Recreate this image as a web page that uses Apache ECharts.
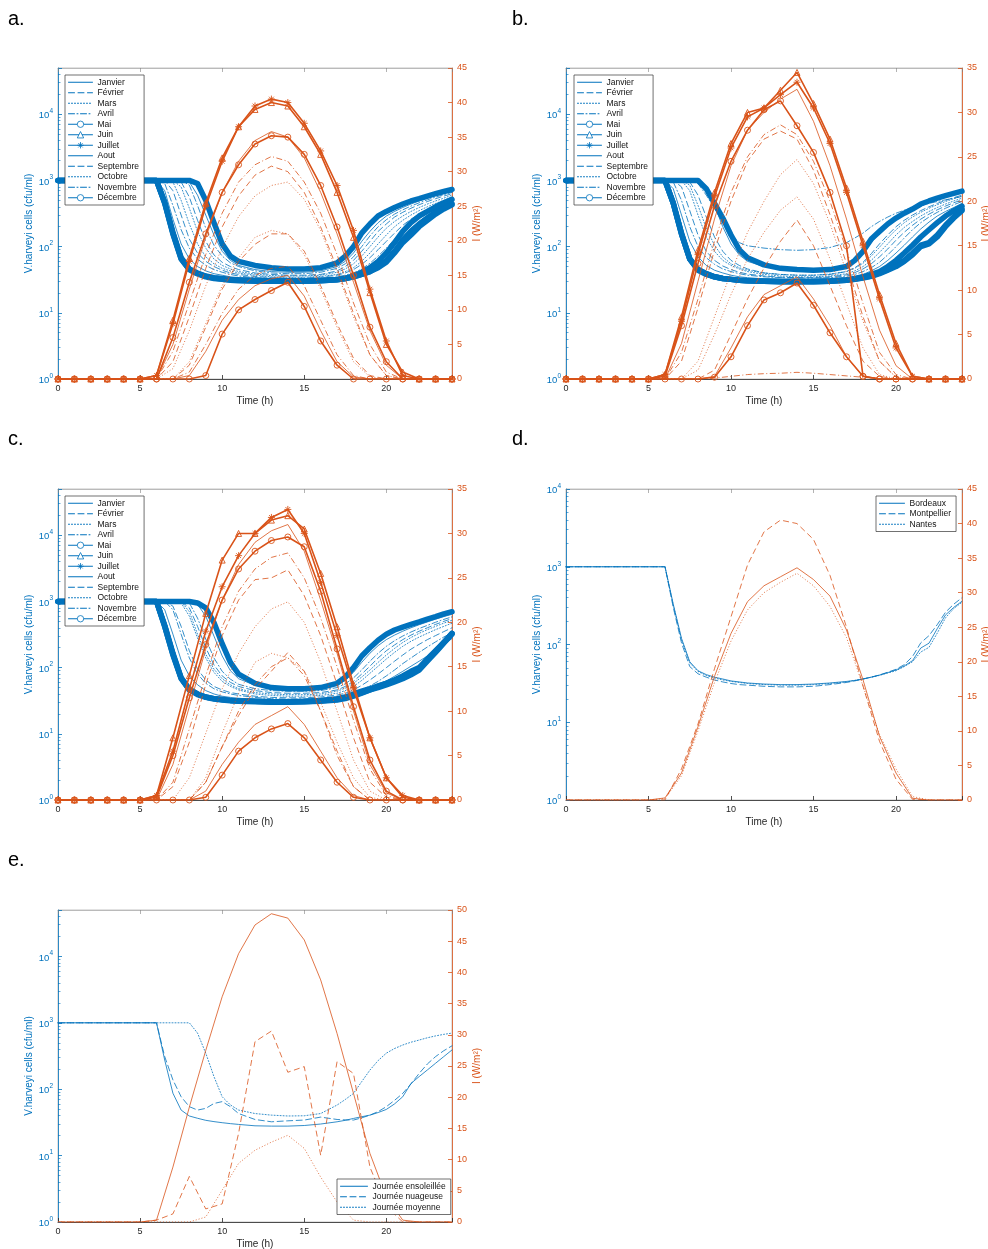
<!DOCTYPE html>
<html><head><meta charset="utf-8">
<script src="https://cdn.jsdelivr.net/npm/echarts@6/dist/echarts.min.js"></script>
<style>html,body{margin:0;padding:0;background:#fff}#c{width:988px;height:1249px}</style>
</head><body><div id="c"></div>
<script>
// ---------- DATA ----------
const HOURS = [0,1,2,3,4,5,6,7,8,9,10,11,12,13,14,15,16,17,18,19,20,21,22,23,24];
const T_B = [0,6,6.5,7,7.5,8,8.5,9,9.5,10,10.5,11,12,13,14,15,16,17,17.5,18,18.5,19,19.5,20,20.5,21,21.5,22,22.5,23,23.5,24];
const MONTHS = ['Janvier','Février','Mars','Avril','Mai','Juin','Juillet','Aout','Septembre','Octobre','Novembre','Décembre'];
const CITIES = ['Bordeaux','Montpellier','Nantes'];
const DAYS = ['Journée ensoleillée','Journée nuageuse','Journée moyenne'];
const PANEL_LETTERS = ['a.','b.','c.','d.','e.'];

// panel a - bacteria (cfu/ml) at T_B
const A_JAN = [1000,1000,1000,1000,1000,950,600,300,150,85,62,52,45,42,41,41,43,50,60,80,120,170,230,290,340,390,440,490,540,590,640,690];
const A_FEV = [1000,1000,1000,1000,950,560,250,120,75,58,50,45,40,38,37,37,38,43,50,62,85,120,170,220,280,330,380,430,480,530,580,630];
const A_MAR = [1000,1000,1000,950,500,220,110,70,55,47,43,40,37,35,34.5,34.5,35.5,38,42,48,60,80,110,150,200,250,300,350,400,450,500,560];
const A_AVR = [1000,1000,900,420,180,95,65,52,45,41,38,36,34,33,32.5,32.5,33,35,37,40,46,56,72,95,130,175,225,280,330,390,440,500];
const A_MAI = [1000,1000,470,165,68,46,40,36,34,33,32,31.5,31,30.5,30.5,30.5,31,32,33,36,41,48,60,80,115,170,230,290,340,400,460,520];
const A_JUN = [1000,1000,460,160,66,45,39,35.5,33.5,32.5,31.5,31,30.5,30,30,30,30.5,31.5,33,35,38,42,50,62,85,125,170,220,270,330,390,450];
const A_JUL = [1000,1000,450,155,65,45,39,35,33,32,31,30.5,30,30,30,30,30.5,31.5,33,35,38,42,48,58,80,115,150,200,250,310,370,430];
const A_AOU = [1000,1000,700,260,110,65,50,43,39,37,35,34,32.5,32,31.5,31.5,32,33.5,35,38,43,50,62,80,105,145,190,240,300,360,420,480];
const A_SEP = [1000,1000,1000,700,300,130,80,60,50,44,40,38,35.5,34,33.5,33.5,34.5,37,40,45,54,68,90,120,160,210,260,310,360,420,470,530];
const A_OCT = [1000,1000,1000,1000,800,380,170,95,65,52,46,42,38.5,36.5,36,36,37,41,46,55,72,100,140,190,240,290,340,390,440,490,540,600];
const A_NOV = [1000,1000,1000,1000,1000,850,420,190,105,72,57,50,43,40,39,39,41,47,55,70,100,145,200,255,310,360,410,460,510,560,610,660];
const A_DEC = [1000,1000,1000,1000,1000,1000,900,500,230,110,72,60,52,48,46,46,48,57,72,100,160,220,290,340,390,440,490,530,580,630,680,730];
// panel a - light (W/m2) at HOURS
const LA_JAN = [0,0,0,0,0,0,0,0,0.5,4,8.5,11.5,13.5,14.5,15,12,7,2.5,0.3,0,0,0,0,0,0];
const LA_FEV = [0,0,0,0,0,0,0,0,2,7.5,13,17,19.5,21,21,18.5,13.5,8,3,0.5,0,0,0,0,0];
const LA_MAR = [0,0,0,0,0,0,0,1.5,7,13.5,19,23.5,26.5,28,28.5,26,21.5,15.5,9,3.5,0.5,0,0,0,0];
const LA_AVR = [0,0,0,0,0,0,0,4,11,18,24,28.5,31,32.2,31.5,28.5,24,18,11,5,1,0,0,0,0];
const LA_MAI = [0,0,0,0,0,0,0,6,14,21,27,31,34,35.2,35,32.5,28,22,15,7.5,2.5,0,0,0,0];
const LA_JUN = [0,0,0,0,0,0,0.5,8.5,17.5,25.5,32,36.5,39,40,39.5,36.5,32.5,27,20.5,12.5,5,1,0,0,0];
const LA_JUL = [0,0,0,0,0,0,0.5,8,17,25,31.5,36.5,39.5,40.5,40,37,33,28,21.5,13,5.5,0.5,0,0,0];
const LA_AOU = [0,0,0,0,0,0,0,5,13,20.5,27,31.5,34.5,35.8,35,32,27,21,14,7,2,0,0,0,0];
const LA_SEP = [0,0,0,0,0,0,0,2.5,9,16,22,26.5,29.5,30.8,30,27,22,16,9.5,3.5,0.5,0,0,0,0];
const LA_OCT = [0,0,0,0,0,0,0,0,2.5,8,13.5,17.5,20.5,21.5,21,18,13,7.5,2.5,0.3,0,0,0,0,0];
const LA_NOV = [0,0,0,0,0,0,0,0,1,5,9.5,13,15,16,16.3,13.5,8.5,3.5,0.5,0,0,0,0,0,0];
const LA_DEC = [0,0,0,0,0,0,0,0,0,0.5,6.5,10,11.5,12.8,14,10.5,5.5,2,0,0,0,0,0,0,0];

// panel b - bacteria
const B_JAN = [1000,1000,1000,1000,1000,1000,800,420,200,110,75,60,50,46,44,44,46,53,62,80,115,160,210,260,310,360,410,460,510,560,610,660];
const B_FEV = [1000,1000,1000,1000,950,600,280,140,85,62,52,46,40,38,37,37,38,42,48,58,78,110,150,200,250,300,350,400,450,500,550,600];
const B_MAR = [1000,1000,1000,1000,700,300,140,85,62,52,46,42,38,36,35,35,36,39,43,50,62,82,110,150,195,240,290,340,390,440,490,540];
const B_AVR = [1000,1000,950,500,200,100,68,54,46,42,39,37,35,34,33.5,33.5,34,36,38,42,48,58,75,100,135,180,230,280,330,380,430,480];
const B_MAI = [1000,1000,460,160,66,45,39,35,33,32,31,30.5,30,30,30,30,30.5,31.5,33,35,38,42,50,62,80,105,140,180,230,290,350,410];
const B_JUN = [1000,1000,450,155,65,45,39,35,33,32,31,30.5,30,29.5,29.5,29.5,30,31,32,34,36,40,45,52,62,80,105,115,150,210,280,370];
const B_JUL = [1000,1000,450,155,65,44,38,35,33,32,31,30.5,30,29.5,29.5,29.5,30,31,32,33.5,35.5,39,44,50,60,75,100,110,140,200,270,350];
const B_AOU = [1000,1000,750,300,120,70,52,44,40,37,35,34,32.5,32,31.5,31.5,32,33.5,35,38,43,50,62,80,105,140,185,235,290,340,390,450];
const B_SEP = [1000,1000,1000,800,350,150,85,62,51,45,41,38.5,36,34.5,34,34,35,37.5,40.5,46,55,70,92,125,165,210,260,310,360,410,460,510];
const B_OCT = [1000,1000,1000,1000,850,420,190,105,70,55,48,44,40,38,37,37,38.5,42,47,56,72,98,135,180,230,280,330,380,430,480,530,580];
const B_NOV = [1000,1000,1000,1000,1000,900,600,380,230,150,115,103,95,90,88,90,97,115,135,160,200,240,280,320,355,390,420,450,480,510,540,570];
const B_DEC = [1000,1000,1000,1000,1000,1000,750,450,270,150,90,68,53,47,45,44,45,50,62,85,130,170,220,270,320,370,440,490,540,590,640,690];
// panel b - light
const LB_JAN = [0,0,0,0,0,0,0,0,0,0.3,3.5,7,9.5,10.5,11.5,9,6,2.5,0.3,0,0,0,0,0,0];
const LB_FEV = [0,0,0,0,0,0,0,0,0,1,5,9,12.5,15.5,17.9,15,10.5,6,2,0.3,0,0,0,0,0];
const LB_MAR = [0,0,0,0,0,0,0,0,2,7,12,16.5,20,23,24.7,22,17.5,12,6.5,2,0.2,0,0,0,0];
const LB_AVR = [0,0,0,0,0,0,0,3,9,15.5,21,25,27.5,28.6,27.5,24.5,20,14.5,8.5,3,0.5,0,0,0,0];
const LB_MAI = [0,0,0,0,0,0,0.3,6,13,19.5,24.5,28,30.3,31.3,28.5,25.5,21,15,0.3,0,0,0,0,0,0];
const LB_JUN = [0,0,0,0,0,0,0.5,7,14.5,21,26.5,30,30.5,32.5,34.5,31,27,21.5,15.5,9.5,4,0.3,0,0,0];
const LB_JUL = [0,0,0,0,0,0,0.5,6.5,14,20.5,26,29.5,30.5,32,33.4,30.5,26.5,21,15,9,3.5,0.3,0,0,0];
const LB_AOU = [0,0,0,0,0,0,0,4,11,18,24,28,30,31.5,32.6,29,24,18,11.5,5.5,1.5,0,0,0,0];
const LB_SEP = [0,0,0,0,0,0,0,2,8,14.5,20,24.5,27,27.9,27,23.5,18.5,13,7,2,0.2,0,0,0,0];
const LB_OCT = [0,0,0,0,0,0,0,0,1,5,9.5,13.5,16.5,19,20.5,18,13.5,8.5,3.5,0.5,0,0,0,0,0];
const LB_NOV = [0,0,0,0,0,0,0,0,0,0.1,0.3,0.5,0.6,0.65,0.75,0.65,0.5,0.35,0.2,0.05,0,0,0,0,0];
const LB_DEC = [0,0,0,0,0,0,0,0,0,0.2,2.5,6,8.9,9.7,10.8,8.3,5.2,2.5,0.3,0,0,0,0,0,0];

// panel c - bacteria
const C_JAN = [1000,1000,1000,1000,1000,1000,900,600,300,150,90,68,54,49,47,47,49,55,64,85,120,165,215,265,310,355,400,445,490,540,590,640];
const C_FEV = [1000,1000,1000,1000,1000,800,420,200,110,75,60,52,45,42,41,41,42,46,52,62,80,105,140,180,220,265,310,355,400,450,500,550];
const C_MAR = [1000,1000,1000,1000,950,600,280,140,85,62,52,46,40,38,37,37,38,41,45,52,64,82,105,135,170,210,250,290,330,375,420,470];
const C_AVR = [1000,1000,1000,750,320,140,80,58,48,43,40,38,35.5,34,33.5,33.5,34,36,38,41,46,53,62,75,92,115,140,170,205,245,290,340];
const C_MAI = [1000,1000,440,165,70,47,40,36,34,33,32,31.5,31,30.5,30.5,30.5,31,32.5,34,37,41,46,52,58,65,75,88,100,135,180,240,330];
const C_JUN = [1000,1000,420,160,70,47,40,36,34,33,32,31.5,31,30.5,30.5,31,32,34,36,40,44,48,53,58,64,72,82,95,130,175,240,330];
const C_JUL = [1000,1000,420,155,68,46,39,35.5,33.5,32.5,31.5,31,30.5,30,30,30.5,31.5,33,35,38,42,46,50,55,61,68,78,92,125,170,235,320];
const C_AOU = [1000,1000,750,320,130,75,55,45,40,37,35.5,34.5,33,32.5,32,32,32.5,34,36,39,43,48,55,63,74,88,105,125,150,185,225,275];
const C_SEP = [1000,1000,1000,850,420,180,95,65,52,46,42,40,37,35.5,35,35,36,38.5,41,46,54,65,80,100,125,155,190,225,265,305,350,400];
const C_OCT = [1000,1000,1000,1000,1000,700,320,160,95,68,55,48,42,40,39,39,40,44,49,58,72,92,120,155,195,240,285,330,375,420,470,520];
const C_NOV = [1000,1000,1000,1000,1000,950,560,270,140,88,67,56,48,45,44,44,45,50,57,70,92,125,165,210,255,300,345,390,435,485,535,585];
const C_DEC = [1000,1000,1000,1000,1000,1000,950,800,480,230,120,80,58,50,48,48,50,58,72,100,150,200,260,320,370,410,450,490,540,590,650,700];
// panel c - light
const LC_JAN = [0,0,0,0,0,0,0,0,0,1,4,6.5,8.5,9.5,10.5,8.5,5.5,2.5,0.5,0,0,0,0,0,0];
const LC_FEV = [0,0,0,0,0,0,0,0,0,2,6,9.5,12.5,14.5,16.6,14.5,10,5.5,1.5,0,0,0,0,0,0];
const LC_MAR = [0,0,0,0,0,0,0,0,0,2.5,7.5,12,15.5,16.5,16,14.5,11,6.5,2.5,0.3,0,0,0,0,0];
const LC_AVR = [0,0,0,0,0,0,0,2,8,14,19.5,23.5,26,27.3,27.8,25,20.5,15,9,3.5,0.5,0,0,0,0];
const LC_MAI = [0,0,0,0,0,0,0.3,5,11.5,17.5,22.5,26,28,29.2,29.6,28.5,23.5,17,10.5,4.5,1,0,0,0,0];
const LC_JUN = [0,0,0,0,0,0,0.5,7,14,21,27,30,30,31.5,32,30.5,25.5,19.5,13,7,2.5,0.3,0,0,0];
const LC_JUL = [0,0,0,0,0,0,0.5,5.5,12.5,19,24,27.5,30,31.8,32.7,30,24.5,18.5,12.5,7,2.5,0.5,0,0,0];
const LC_AOU = [0,0,0,0,0,0,0,4,10.5,17,22.5,26.5,29,30.3,31,28,22.5,16.5,10,4,0.8,0,0,0,0];
const LC_SEP = [0,0,0,0,0,0,0,1.5,6.5,13,18.5,22.5,24.8,25,25.9,23,18.5,13,7,2,0.3,0,0,0,0];
const LC_OCT = [0,0,0,0,0,0,0,0,2.5,7.5,12.5,16.5,19.5,21.5,22.3,20,15.5,10,4.5,1,0,0,0,0,0];
const LC_NOV = [0,0,0,0,0,0,0,0,0,2,6,10,13,15,16,14,10,5,1.5,0,0,0,0,0,0];
const LC_DEC = [0,0,0,0,0,0,0,0,0,0.3,2.8,5.5,7,8,8.6,7,4.5,2,0.3,0,0,0,0,0,0];

// panel d - cities
const D_BOR = [1000,1000,330,120,60,46,41,38,36,34,33,32,31,30.5,30.5,31,32,33.5,34.5,36,38,40.5,43.5,47,53,62,90,104,160,240,300,360];
const D_MON = [1000,1000,300,105,52,42,38,35,33,31.5,30.5,30,29,28.5,28.5,29,30.5,32.5,34,36,38,40.5,44,48,55,70,105,130,180,260,330,400];
const D_NAN = [1000,1000,320,115,58,45,40,37,35,33.5,32.5,31.5,30.5,30,30,30.5,31.5,33,34.5,36,38,40,43,46,52,60,80,92,140,220,290,350];
const LD_BOR = [0,0,0,0,0,0,0.3,3.9,10.6,17.9,24.1,28.7,31,32.3,33.6,31.9,29.5,24.6,17.4,9.2,3.9,0.25,0,0,0];
const LD_MON = [0,0,0,0,0,0,0,4.5,11,19,26.5,34,38.8,40.5,40,37.7,32.5,25,16.5,8.5,3,0.1,0,0,0];
const LD_NAN = [0,0,0,0,0,0,0.2,3.5,10,17,23,27.5,30,31.5,32.8,31,28,23.5,16.5,9.5,4.5,0.5,0,0,0];

// panel e - day types
const E_SUN = [1000,1000,275,87,48.5,39.5,36.5,34,32.5,31.3,30.3,29.5,28.1,27.8,27.8,28.4,29.9,32.3,34,36.3,38.5,40.7,44.5,49.6,60,77,122,155,195,246,310,390];
const E_CLO = [1000,1000,310,138,77,54.6,48.5,51.4,61,65,54.6,43,35,32.3,33.4,34.3,38,35,34.5,34.3,37,40.7,46,54.6,68,86.5,120,173,240,310,380,450];
const E_AVG = [1000,1000,1000,1000,1000,1000,700,349,155,77,58,48.5,43,40.7,39.5,39.8,43,57.7,70,86.5,130,194,270,349,410,463,510,550,595,635,670,700];
const LE_SUN = [0,0,0,0,0,0,0.3,8.8,18.4,27.5,36.1,43,47.6,49.4,48.7,45.2,38.8,30.2,20.6,11,4,0.3,0,0,0];
const LE_CLO = [0,0,0,0,0,0,0.3,1.3,7.3,2.1,2.9,14.2,28.9,30.6,24,24.9,10.7,25.7,23.8,8.8,2.5,0,0,0,0];
const LE_AVG = [0,0,0,0,0,0,0,0,0,0.8,5.1,9.4,11.5,12.8,13.9,11.8,7.2,3.2,0.3,0,0,0,0,0,0];

// ---------- STYLE / LAYOUT ----------
const BLUE = '#0072BD', ORANGE = '#D95319', DARK = '#262626';
const FONT = '"Liberation Sans", Arial, Helvetica, sans-serif';
const STAR = 'path://M5,0L5,10M0,5L10,5M1.6,1.6L8.4,8.4M8.4,1.6L1.6,8.4';
const DASH = {solid:'solid', dashed:[6,3.5], dotted:[1,2], dashdot:[6,2.5,1,2.5]};
const MONTH_LINE = ['solid','dashed','dotted','dashdot','solid','solid','solid','solid','dashed','dotted','dashdot','solid'];
const MONTH_MARK = ['','','','','circle','triangle','star','','','','','circle'];
const THREE_LINE = ['solid','dashed','dotted'];
const THREE_MARK = ['','',''];

const PANELS = [
  {box:[58,68,394,311], rMax:45, logMax:50000, rGap:20, names:MONTHS, lines:MONTH_LINE, marks:MONTH_MARK,
   bac:[A_JAN,A_FEV,A_MAR,A_AVR,A_MAI,A_JUN,A_JUL,A_AOU,A_SEP,A_OCT,A_NOV,A_DEC],
   light:[LA_JAN,LA_FEV,LA_MAR,LA_AVR,LA_MAI,LA_JUN,LA_JUL,LA_AOU,LA_SEP,LA_OCT,LA_NOV,LA_DEC],
   leg:{left:65, top:75, itemWidth:24}, letter:[8,9]},
  {box:[566,68,396,311], rMax:35, logMax:50000, rGap:13, names:MONTHS, lines:MONTH_LINE, marks:MONTH_MARK,
   bac:[B_JAN,B_FEV,B_MAR,B_AVR,B_MAI,B_JUN,B_JUL,B_AOU,B_SEP,B_OCT,B_NOV,B_DEC],
   light:[LB_JAN,LB_FEV,LB_MAR,LB_AVR,LB_MAI,LB_JUN,LB_JUL,LB_AOU,LB_SEP,LB_OCT,LB_NOV,LB_DEC],
   leg:{left:574, top:75, itemWidth:24}, letter:[512,9]},
  {box:[58,489,394,311], rMax:35, logMax:50000, rGap:20, names:MONTHS, lines:MONTH_LINE, marks:MONTH_MARK,
   bac:[C_JAN,C_FEV,C_MAR,C_AVR,C_MAI,C_JUN,C_JUL,C_AOU,C_SEP,C_OCT,C_NOV,C_DEC],
   light:[LC_JAN,LC_FEV,LC_MAR,LC_AVR,LC_MAI,LC_JUN,LC_JUL,LC_AOU,LC_SEP,LC_OCT,LC_NOV,LC_DEC],
   leg:{left:65, top:496, itemWidth:24}, letter:[8,429]},
  {box:[566,489,396,311], rMax:45, logMax:10000, rGap:13, names:CITIES, lines:THREE_LINE, marks:THREE_MARK,
   bac:[D_BOR,D_MON,D_NAN], light:[LD_BOR,LD_MON,LD_NAN],
   leg:{left:876, top:496, itemWidth:25}, letter:[512,429]},
  {box:[58,910,394,312], rMax:50, logMax:50000, rGap:20, names:DAYS, lines:THREE_LINE, marks:THREE_MARK,
   bac:[E_SUN,E_CLO,E_AVG], light:[LE_SUN,LE_CLO,LE_AVG],
   leg:{left:337, top:1179, itemWidth:27}, letter:[8,850]}
];

function logLabel(v){
  const e = Math.log10(v), r = Math.round(e);
  if (Math.abs(e - r) > 1e-6) return '';
  return '{b|10}{s|' + r + '}';
}
const legendSym = {circle:'circle', triangle:'triangle', star:STAR};
const lightSym = {circle:'circle', triangle:'triangle', star:STAR};

const opt = {animation:false, backgroundColor:'#fff', textStyle:{fontFamily:FONT},
  grid:[], xAxis:[], yAxis:[], series:[], legend:[], graphic:[]};

PANELS.forEach((p, i) => {
  const [l, t, w, h] = p.box;
  opt.grid.push({left:l, top:t, width:w, height:h, show:true, borderColor:'#a0a0a0', borderWidth:0.6,
    backgroundColor:'rgba(0,0,0,0)', containLabel:false, outerBoundsMode:'none'});
  opt.xAxis.push({gridIndex:i, type:'value', min:0, max:24, interval:5, position:'bottom',
    axisLine:{onZero:false, lineStyle:{color:DARK, width:0.8}},
    axisTick:{inside:true, length:4, lineStyle:{color:DARK, width:0.8}},
    axisLabel:{color:DARK, fontSize:9, margin:5, fontFamily:FONT, formatter:v => (v % 5 === 0 ? String(v) : '')},
    splitLine:{show:false},
    name:'Time (h)', nameLocation:'middle', nameGap:17, nameTextStyle:{color:DARK, fontSize:10, fontFamily:FONT}});
  opt.xAxis.push({gridIndex:i, type:'value', min:0, max:24, interval:5, position:'top',
    axisLine:{onZero:false, lineStyle:{color:'#a0a0a0', width:0.6}},
    axisTick:{inside:true, length:4, lineStyle:{color:'#808080', width:0.6}},
    axisLabel:{show:false}, splitLine:{show:false}});
  opt.yAxis.push({gridIndex:i, type:'log', logBase:10, min:1, max:p.logMax, position:'left',
    axisLine:{show:true, onZero:false, lineStyle:{color:BLUE, width:0.8}},
    axisTick:{show:true, inside:true, length:4, lineStyle:{color:BLUE, width:0.8}},
    minorTick:{show:true, splitNumber:9, length:2.5, lineStyle:{color:BLUE, width:0.6}},
    axisLabel:{formatter:logLabel, margin:5, rich:{
      b:{fontSize:9.5, color:BLUE, lineHeight:13, verticalAlign:'bottom', fontFamily:FONT},
      s:{fontSize:6.5, color:BLUE, lineHeight:7, verticalAlign:'top', fontFamily:FONT}}},
    splitLine:{show:false},
    name:'V.harveyi cells (cfu/ml)', nameLocation:'middle', nameGap:24, nameRotate:90,
    nameTextStyle:{color:BLUE, fontSize:10, fontFamily:FONT}});
  opt.yAxis.push({gridIndex:i, type:'value', min:0, max:p.rMax, interval:5, position:'right',
    axisLine:{show:true, onZero:false, lineStyle:{color:ORANGE, width:0.8}},
    axisTick:{show:true, inside:true, length:4, lineStyle:{color:ORANGE, width:0.8}},
    axisLabel:{color:ORANGE, fontSize:9, margin:5, fontFamily:FONT},
    splitLine:{show:false},
    name:'I (W/m²)', nameLocation:'middle', nameGap:p.rGap, nameRotate:90,
    nameTextStyle:{color:ORANGE, fontSize:10, fontFamily:FONT}});

  // bacteria (left axis)
  p.bac.forEach((arr, k) => {
    const mk = p.marks[k];
    opt.series.push({type:'line', name:p.names[k], xAxisIndex:2*i, yAxisIndex:2*i,
      data:T_B.map((tt, j) => [tt, arr[j]]),
      symbol: mk ? legendSym[mk] : 'none', showSymbol:false, symbolSize:6,
      lineStyle:{color:BLUE, width: mk ? 5.5 : 0.8, type:DASH[p.lines[k]], cap:'round', join:'round'},
      itemStyle:{color:'#fff', borderColor:BLUE, borderWidth:0.8},
      silent:true, z:2});
  });
  // light (right axis)
  p.light.forEach((arr, k) => {
    const mk = p.marks[k];
    opt.series.push({type:'line', name:'I ' + p.names[k] + ' ' + i, xAxisIndex:2*i, yAxisIndex:2*i+1,
      data:HOURS.map((hh, j) => [hh, arr[j]]),
      symbol: mk ? lightSym[mk] : 'none', showSymbol: !!mk, symbolSize: mk === 'star' ? 7 : 6,
      lineStyle:{color:ORANGE, width: mk ? 1.6 : 0.8, type:DASH[p.lines[k]]},
      itemStyle:{color:'rgba(255,255,255,0)', borderColor:ORANGE, borderWidth:0.9},
      silent:true, z:3});
  });

  opt.legend.push({left:p.leg.left, top:p.leg.top, orient:'vertical', selectedMode:false,
    data:p.names.map((n, k) => p.marks[k]
      ? {name:n, itemStyle:{color:'#fff', borderColor:BLUE, borderWidth:0.8}}
      : {name:n, itemStyle:{opacity:0}}),
    itemWidth:p.leg.itemWidth, itemHeight:8, itemGap:0, padding:[2,5,2,3],
    backgroundColor:'#fff', borderColor:'#333', borderWidth:0.7, borderRadius:0,
    lineStyle:{width:1}, z:10,
    textStyle:{fontSize:8.5, color:'#111', lineHeight:10.5, fontFamily:FONT}});

  opt.graphic.push({type:'text', left:p.letter[0], top:p.letter[1], z:20,
    style:{text:PANEL_LETTERS[i], fill:'#000', font:'20px ' + FONT}});
});

const chart = echarts.init(document.getElementById('c'), null, {renderer:'canvas', width:988, height:1249});
chart.setOption(opt);
</script></body></html>
